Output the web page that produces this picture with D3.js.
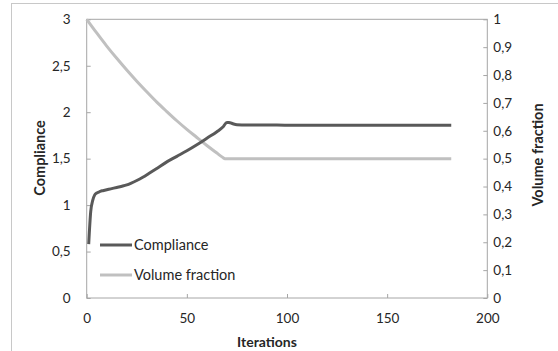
<!DOCTYPE html>
<html>
<head>
<meta charset="utf-8">
<script src="https://cdn.jsdelivr.net/npm/d3@7"></script>
<style>
  body { margin: 0; background: #fff; }
  text { font-family: Lato, "Open Sans", sans-serif; fill: #262626; }
</style>
</head>
<body>
<script>
// data
const complianceIter = [1, 2, 3, 4, 5, 6, 7, 8, 10, 12, 15, 18, 20, 22, 25, 28, 31, 35, 40, 45, 50, 55, 60, 65, 68, 70, 71, 73, 75, 80, 90, 100, 120, 140, 160, 182];
const complianceVal  = [0.58, 0.93, 1.05, 1.11, 1.13, 1.14, 1.15, 1.155, 1.165, 1.175, 1.19, 1.205, 1.218, 1.235, 1.265, 1.3, 1.34, 1.395, 1.465, 1.525, 1.585, 1.65, 1.72, 1.79, 1.84, 1.89, 1.89, 1.875, 1.865, 1.862, 1.862, 1.86, 1.86, 1.86, 1.86, 1.86];
const volumeIter = [0, 5, 10, 15, 20, 25, 30, 35, 40, 45, 50, 55, 60, 65, 68, 69, 75, 90, 120, 150, 182];
const volumeVal  = [1.0, 0.951, 0.904, 0.86, 0.818, 0.778, 0.74, 0.703, 0.669, 0.636, 0.605, 0.576, 0.547, 0.52, 0.504, 0.5, 0.5, 0.5, 0.5, 0.5, 0.5];

const xTicks = [0, 50, 100, 150, 200];
const leftTicks = [0, 0.5, 1, 1.5, 2, 2.5, 3];
const rightTicks = [0, 0.1, 0.2, 0.3, 0.4, 0.5, 0.6, 0.7, 0.8, 0.9, 1];
const seriesNames = ["Compliance", "Volume fraction"];

const canvWidth = 558, canvHeight = 351;
const svg = d3.select("body").append("svg")
    .attr("width", canvWidth)
    .attr("height", canvHeight);

// outer chart frame (runs off the right and bottom edge)
svg.append("rect")
    .attr("x", 11.5).attr("y", 3.5)
    .attr("width", 600).attr("height", 400)
    .attr("fill", "none")
    .attr("stroke", "#c8c8c8");

// plot area
const plot = {left: 86.7, top: 19.3, right: 487.3, bottom: 298};

const xScale = d3.scaleLinear().domain([0, 200]).range([plot.left, plot.right]);
const yLeft = d3.scaleLinear().domain([0, 3]).range([plot.bottom, plot.top]);
const yRight = d3.scaleLinear().domain([0, 1]).range([plot.bottom, plot.top]);

const comma = d => String(+d.toFixed(1)).replace(".", ",");

svg.append("rect")
    .attr("x", plot.left).attr("y", plot.top)
    .attr("width", plot.right - plot.left)
    .attr("height", plot.bottom - plot.top)
    .attr("fill", "none")
    .attr("stroke", "#a6a6a6");

// axes, ticks pointing inward
const gx = svg.append("g")
    .attr("transform", "translate(0," + plot.bottom + ")")
    .call(d3.axisBottom(xScale).tickValues(xTicks).tickSize(-4).tickSizeOuter(0).tickPadding(15));

const gl = svg.append("g")
    .attr("transform", "translate(" + plot.left + ",0)")
    .call(d3.axisLeft(yLeft).tickValues(leftTicks).tickFormat(comma).tickSize(-4).tickSizeOuter(0).tickPadding(16));

const gr = svg.append("g")
    .attr("transform", "translate(" + plot.right + ",0)")
    .call(d3.axisRight(yRight).tickValues(rightTicks).tickFormat(comma).tickSize(-4).tickSizeOuter(0).tickPadding(6));

[gx, gl, gr].forEach(g => {
    g.select(".domain").remove();
    g.selectAll(".tick line").attr("stroke", "#a6a6a6");
    g.selectAll(".tick text")
        .attr("font-family", "Lato, sans-serif")
        .attr("font-size", "13.5px")
        .attr("fill", "#262626");
});

// lines
const compData = complianceIter.map((d, i) => [d, complianceVal[i]]);
const volData = volumeIter.map((d, i) => [d, volumeVal[i]]);

svg.append("path")
    .datum(volData)
    .attr("fill", "none")
    .attr("stroke", "#c0c0c0")
    .attr("stroke-width", 3)
    .attr("d", d3.line().x(d => xScale(d[0])).y(d => yRight(d[1])).curve(d3.curveMonotoneX));

svg.append("path")
    .datum(compData)
    .attr("fill", "none")
    .attr("stroke", "#595959")
    .attr("stroke-width", 3)
    .attr("d", d3.line().x(d => xScale(d[0])).y(d => yLeft(d[1])).curve(d3.curveMonotoneX));

// legend
const legendColors = ["#595959", "#c0c0c0"];
const legend = svg.append("g").attr("transform", "translate(100,245)");
seriesNames.forEach((name, i) => {
    legend.append("line")
        .attr("x1", 0).attr("x2", 32)
        .attr("y1", i * 30).attr("y2", i * 30)
        .attr("stroke", legendColors[i])
        .attr("stroke-width", 3);
    legend.append("text")
        .attr("x", 34).attr("y", i * 30)
        .attr("dy", "0.35em")
        .attr("font-size", "14.5px")
        .text(name);
});

// axis titles
svg.append("text")
    .attr("x", 267)
    .attr("y", 347)
    .attr("text-anchor", "middle")
    .attr("font-size", "14px")
    .attr("font-weight", "bold")
    .text("Iterations");

svg.append("text")
    .attr("transform", "translate(45,158) rotate(-90)")
    .attr("text-anchor", "middle")
    .attr("font-size", "14.5px")
    .attr("font-weight", "bold")
    .text("Compliance");

svg.append("text")
    .attr("transform", "translate(543,155) rotate(-90)")
    .attr("text-anchor", "middle")
    .attr("font-size", "14.5px")
    .attr("font-weight", "bold")
    .text("Volume fraction");
</script>
</body>
</html>
